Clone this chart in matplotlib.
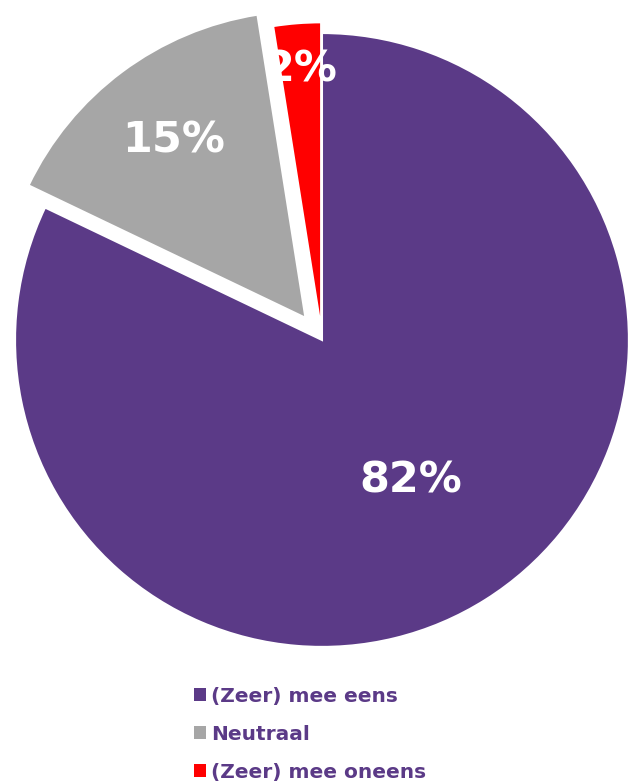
import numpy as np
import matplotlib.pyplot as plt
from matplotlib.patches import Patch

labels = ['(Zeer) mee eens', 'Neutraal', '(Zeer) mee oneens']
values = [82.1, 15.4, 2.5]
colors = ['#5B3A87', '#A6A6A6', '#FF0000']
explode = [0.0, 0.09, 0.035]
label_r = [0.54, 0.72, 0.85]

fig = plt.figure(figsize=(6.28, 7.84), dpi=100)
ax = fig.add_axes([0, 0, 1, 1])

wedges, _ = ax.pie(values, colors=colors, explode=explode, startangle=90,
                   counterclock=False, radius=1.0,
                   wedgeprops=dict(edgecolor='white', linewidth=1.5))

for w, v, r in zip(wedges, values, label_r):
    mid = np.deg2rad((w.theta1 + w.theta2) / 2)
    cx, cy = w.center
    ax.text(cx + r * np.cos(mid), cy + r * np.sin(mid), '%.0f%%' % v,
            ha='center', va='center', color='white', fontsize=31,
            fontweight='bold', family='DejaVu Sans')

ax.set_xlim(-1.049, 0.997)
ax.set_ylim(-1.446, 1.107)
ax.axis('off')

handles = [Patch(facecolor=c, edgecolor='none') for c in colors]
leg = fig.legend(handles, labels, loc='upper left', bbox_to_anchor=(0.293, 0.137),
                 frameon=False, labelcolor='#5B3A87',
                 handlelength=0.6, handleheight=0.6, handletextpad=0.25,
                 labelspacing=0.95, borderpad=0, prop=dict(weight='bold', size=14.5))

fig.savefig('out.png', dpi=100)
